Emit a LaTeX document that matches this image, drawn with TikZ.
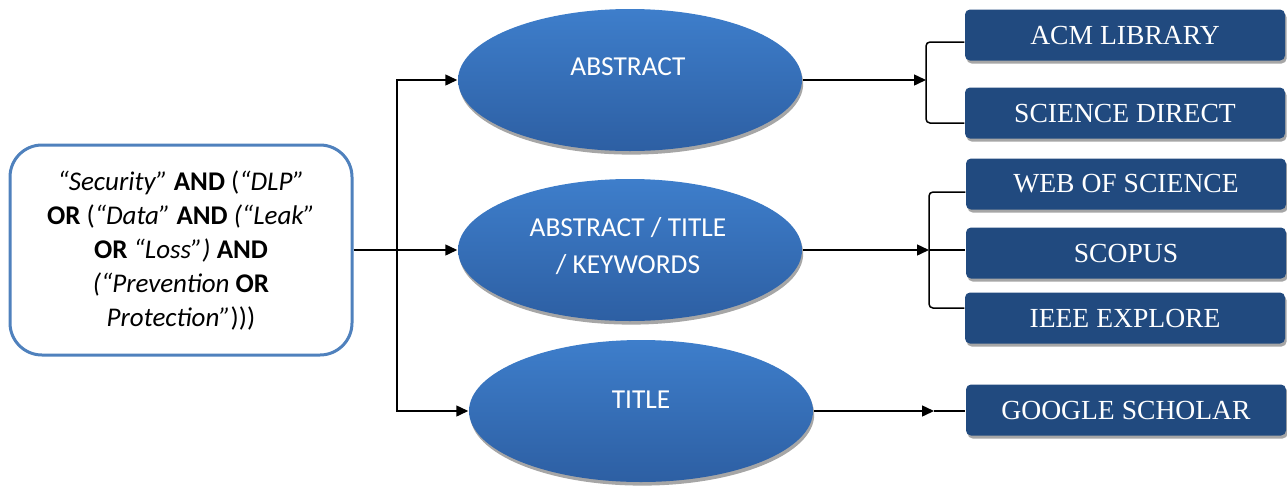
\documentclass[tikz,border=0pt]{standalone}
\usepackage{fontspec}
\setmainfont{Carlito}
\newfontfamily\tnr{Liberation Serif}
\usetikzlibrary{arrows.meta,shadows,calc,shapes.geometric}
\definecolor{qblue}{HTML}{4F81BD}
\definecolor{etop}{HTML}{3E7ECB}
\definecolor{ebot}{HTML}{2D5FA3}
\definecolor{dbox}{HTML}{214A7F}
\begin{document}
\begin{tikzpicture}[x=0.5pt,y=-0.5pt,
  line width=0.75pt,
  arr/.style={-{Triangle[length=6pt,width=5.5pt]}},
  br/.style={rounded corners=2pt},
  query/.style={draw=qblue,line width=1.5pt,rounded corners=16pt,fill=white,
    minimum width=171pt,minimum height=105pt,inner sep=0pt,align=center,
    font=\fontsize{13.5}{17}\selectfont},
  ell/.style={ellipse,minimum width=172pt,minimum height=71pt,inner sep=0pt,
    top color=etop,bottom color=ebot,draw=none,
    drop shadow={shadow xshift=0.6pt,shadow yshift=-1.8pt,fill=black!35,opacity=1}},
  etext/.style={text=white,align=center,font=\fontsize{13.7}{18.5}\selectfont},
  db/.style={fill=dbox,rounded corners=2.5pt,minimum width=160pt,minimum height=25.5pt,
    inner sep=0pt,text=white,font=\tnr\fontsize{13.8}{15}\selectfont,
    drop shadow={shadow xshift=0.8pt,shadow yshift=-1.5pt,fill=black!35,opacity=1}}
]
\useasboundingbox (0,0) rectangle (1287,488);
% query box
\node[query] (q) at (181,250) {%
\textit{“Security”} \textbf{AND} (\textit{“DLP”}\\
\textbf{OR} (\textit{“Data”} \textbf{AND} \textit{(“Leak”}\\
\textbf{OR} \textit{“Loss”)} \textbf{AND}\\
\textit{(“Prevention} \textbf{OR}\\
\textit{Protection”})))};
% ellipses
\node[ell] (abs) at (630,80) {};
\node[etext] (absT) at (628,67) {ABSTRACT};
\node[ell] (akt) at (630,250) {};
\node[etext] (aktT) at (628,246) {ABSTRACT / TITLE\\/ KEYWORDS};
\node[ell] (tit) at (641,411) {};
\node[etext] (titT) at (641,400) {TITLE};
% databases
\node[db] (acm) at (1125,35) {ACM LIBRARY};
\node[db] (sd) at (1125,113) {SCIENCE DIRECT};
\node[db] (wos) at (1126,184) {WEB OF SCIENCE};
\node[db] (sco) at (1126,253) {SCOPUS};
\node[db] (ieee) at (1125,318) {IEEE EXPLORE};
\node[db] (gs) at (1126,410) {GOOGLE SCHOLAR};
% junctions
\coordinate (j) at (397,250);
\coordinate (b1) at (926,80);
\coordinate (b2) at (929,250);
\coordinate (g1) at (934,411);
% left connectors
\draw (q.east) -- (j);
\draw[arr] (j) |- (abs.west);
\draw[arr] (j) -- (akt.west);
\draw[arr] (j) |- (tit.west);
% right connectors
\draw[arr] (abs.east) -- (b1);
\draw[br] ([yshift=-3.5pt]acm.west) -| (b1) |- ([yshift=-5pt]sd.west);
\draw[arr] (akt.east) -- (b2);
\draw[br] ([yshift=-4pt]wos.west) -| (b2) |- ([yshift=5pt]ieee.west);
\draw (b2) -- (b2 -| sco.west);
\draw[arr] (tit.east) -- (g1);
\draw (g1) -- (g1 -| gs.west);
\end{tikzpicture}
\end{document}
